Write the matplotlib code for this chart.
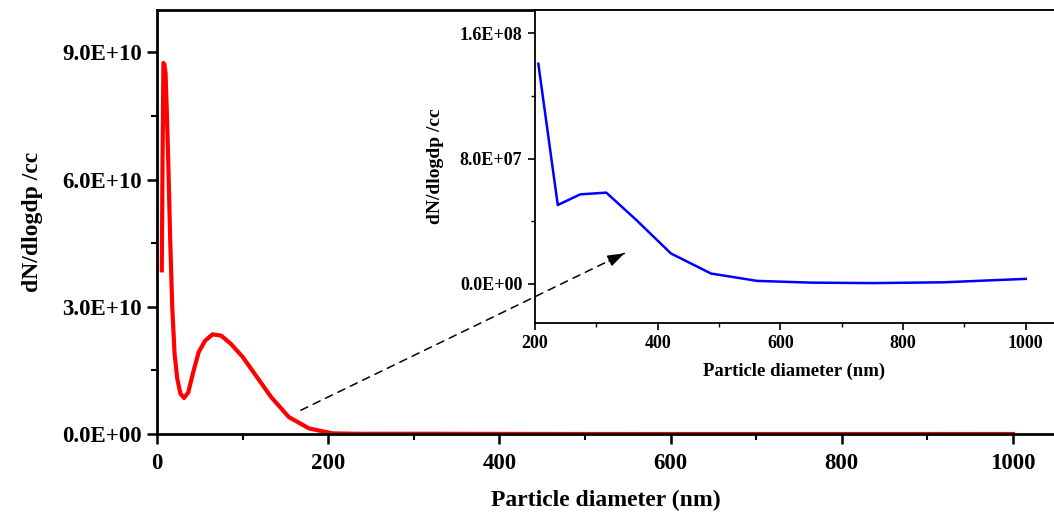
import matplotlib
matplotlib.use('Agg')
import matplotlib.pyplot as plt
from matplotlib.ticker import MultipleLocator, FuncFormatter

plt.rcParams['font.family'] = ['Liberation Serif', 'DejaVu Serif']
plt.rcParams['font.weight'] = 'bold'

# SMPS channel diameters (nm) and number concentration
diam_small = [5.62, 6.49, 7.50, 8.66, 10.0, 11.5, 13.3, 15.4, 17.8, 20.5, 23.7,
              27.4, 31.6, 36.5, 42.2, 48.7, 56.2, 64.9, 75.0, 86.6, 100.0,
              115.5, 133.4, 154.0, 177.8]
conc_small = [3.86e10, 6.5e10, 8.75e10, 8.72e10, 8.5e10, 7.6e10, 6.3e10, 4.6e10,
              3.0e10, 1.9e10, 1.3e10, 0.95e10, 0.85e10, 0.98e10, 1.45e10,
              1.93e10, 2.2e10, 2.35e10, 2.32e10, 2.12e10, 1.82e10, 1.38e10,
              0.87e10, 0.40e10, 0.13e10]

diam_large = [205.4, 237.1, 273.8, 316.2, 365.2, 421.7, 487.0, 562.3, 649.4,
              749.9, 866.0, 1000.0]
conc_large = [14.07e7, 5.04e7, 5.72e7, 5.83e7, 4.08e7, 1.94e7, 0.66e7, 0.19e7,
              0.08e7, 0.05e7, 0.10e7, 0.32e7]

diam_all = diam_small + diam_large
conc_all = conc_small + conc_large

sci = FuncFormatter(lambda v, p: f"{v:.1E}")

fig = plt.figure(figsize=(10.54, 5.13), dpi=100)
ax = fig.add_axes([157 / 1054, 79 / 513, 1 - 157 / 1054, 424 / 513])
ax.plot(diam_all, conc_all, color='red', lw=3)
ax.set_xlim(0, 1048)
ax.set_ylim(0, 1e11)
ax.xaxis.set_major_locator(MultipleLocator(200))
ax.xaxis.set_minor_locator(MultipleLocator(100))
ax.yaxis.set_major_locator(MultipleLocator(3e10))
ax.yaxis.set_minor_locator(MultipleLocator(1.5e10))
ax.yaxis.set_major_formatter(sci)
ax.tick_params(which='major', length=7, width=1.8, labelsize=16.5, pad=4)
ax.tick_params(axis='x', which='major', pad=7)
ax.tick_params(which='minor', length=4, width=1.5)
ax.spines['right'].set_visible(False)
for s in ['left', 'bottom', 'top']:
    ax.spines[s].set_linewidth(2)
ax.set_xlabel('Particle diameter (nm)', fontsize=17, fontweight='bold', labelpad=11)
ax.set_ylabel('dN/dlogdp /cc', fontsize=17, fontweight='bold', labelpad=14)

# inset: coarse mode
ins = fig.add_axes([535 / 1054, 190 / 513, 1 - 535 / 1054, 313 / 513])
ins.plot(diam_large, conc_large, color='blue', lw=1.8)
ins.set_xlim(200, 1046)
ins.set_ylim(-2.5e7, 1.75e8)
ins.xaxis.set_major_locator(MultipleLocator(200))
ins.xaxis.set_minor_locator(MultipleLocator(100))
ins.yaxis.set_major_locator(MultipleLocator(8e7))
ins.yaxis.set_minor_locator(MultipleLocator(4e7))
ins.yaxis.set_major_formatter(sci)
ins.tick_params(which='major', length=5, width=1.2, labelsize=13, pad=4)
ins.tick_params(which='minor', length=3, width=1.0)
ins.spines['right'].set_visible(False)
for s in ['left', 'bottom', 'top']:
    ins.spines[s].set_linewidth(1.3)
ins.set_xlabel('Particle diameter (nm)', fontsize=13.5, fontweight='bold', labelpad=7)
ins.set_ylabel('dN/dlogdp /cc', fontsize=14, fontweight='bold', labelpad=11)

# dashed pointer from the tail of the main curve to the inset
ins.annotate('', xy=(546, 4.26e10), xytext=(168, 0.56e10),
             xycoords=ax.transData, textcoords=ax.transData, annotation_clip=False,
             arrowprops=dict(arrowstyle='-', ls=(0, (5, 4)), lw=1.1, color='black',
                             shrinkA=0, shrinkB=0))
ins.annotate('', xy=(546, 4.26e10), xytext=(528, 4.08e10),
             xycoords=ax.transData, textcoords=ax.transData, annotation_clip=False,
             arrowprops=dict(arrowstyle='-|>,head_length=1.0,head_width=0.35',
                             lw=1.1, color='black', shrinkA=0, shrinkB=0))

fig.savefig('out.png', dpi=100)
